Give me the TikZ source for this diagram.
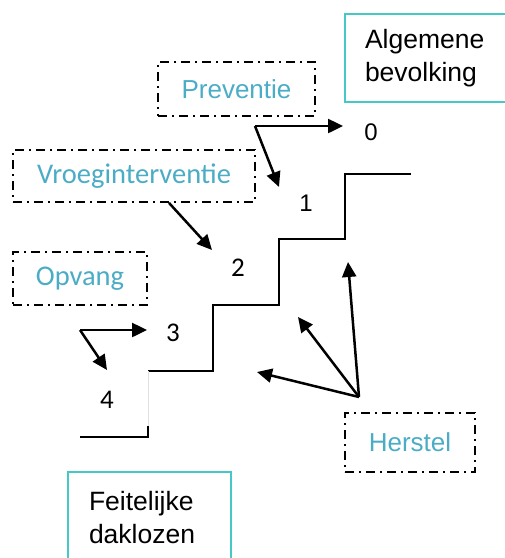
\documentclass[tikz,border=0pt]{standalone}
\usepackage{fontspec}
\setmainfont{Liberation Sans}
\newfontfamily\calfont{Carlito}
\usetikzlibrary{arrows.meta, positioning}

\definecolor{kaderteal}{RGB}{70,200,200}
\definecolor{tekstblauw}{RGB}{75,172,198}

\begin{document}
\begin{tikzpicture}[x=1pt, y=-1pt,
    fase/.style={draw=black, line width=1.8pt, dash pattern=on 9pt off 5pt on 2pt off 5pt,
                 text=tekstblauw, font=\fontsize{26}{31}\selectfont, inner sep=0pt},
    groep/.style={draw=kaderteal, line width=2pt, align=left, inner sep=0pt,
                  font=\fontsize{26.5}{33}\selectfont},
    trede/.style={font=\fontsize{24}{28}\selectfont},
    pijl/.style={line width=2.5pt, -{Triangle[length=15pt,width=14pt]}}]
        \useasboundingbox (0,0) rectangle (505,558);

        % Groepen
        \node[groep, minimum width=180pt, minimum height=88pt, text width=140pt] (alg) at (435,58) {Algemene\\bevolking};
        \node[groep, minimum width=163pt, minimum height=92pt, text width=121pt] (feit) at (149.5,518) {Feitelijke\\daklozen};

        % Fasen
        \node[fase, minimum width=157pt, minimum height=54pt] (prev) at (236.5,89) {Preventie};
        \node[fase, minimum width=242pt, minimum height=52pt, font=\calfont\fontsize{28.5}{33}\selectfont] (vroeg) at (134,176) {Vroeginterventie};
        \node[fase, minimum width=134pt, minimum height=53pt, font=\calfont\fontsize{28.5}{33}\selectfont] (opv) at (80,278.5) {Opvang};
        \node[fase, minimum width=130pt, minimum height=59pt] (herst) at (410,442.5) {Herstel};

        % Treden
        \node[trede] (t0) at (371,132) {0};
        \node[trede] (t1) at (306,203) {1};
        \node[trede, font=\calfont\fontsize{27}{30}\selectfont] (t2) at (238,268) {2};
        \node[trede, font=\calfont\fontsize{27}{30}\selectfont] (t3) at (173,333) {3};
        \node[trede, font=\calfont\fontsize{27}{30}\selectfont] (t4) at (107,400) {4};

        % Trap
        \draw[line width=2pt] (411,174) -- (345,174) -- (345,239) -- (279,239) -- (279,305)
            -- (213,305) -- (213,371) -- (148,371);
        \draw[black!12, line width=1pt] (148,371) -- (148,427);
        \draw[line width=2pt] (148,426) -- (148,437) -- (80,437);

        % Pijlen
        \coordinate (pk) at (255,126);
        \coordinate (p0) at (343,126);
        \coordinate (p1) at (279,187);
        \draw[pijl] (pk) -- (p0);
        \draw[pijl] (pk) -- (p1);

        \coordinate (p2) at (212,250);
        \draw[pijl] (vroeg.south -| 169,0) -- (p2);

        \coordinate (ok) at (80,330);
        \coordinate (p3) at (147,330);
        \coordinate (p4) at (107,370);
        \draw[pijl] (ok) -- (p3);
        \draw[pijl] (ok) -- (p4);

        \coordinate (hk) at (359,397);
        \coordinate (h1) at (348,262);
        \coordinate (h2) at (298,317);
        \coordinate (h3) at (257,372);
        \draw[pijl] (hk) -- (h1);
        \draw[pijl] (hk) -- (h2);
        \draw[pijl] (hk) -- (h3);
\end{tikzpicture}
\end{document}
